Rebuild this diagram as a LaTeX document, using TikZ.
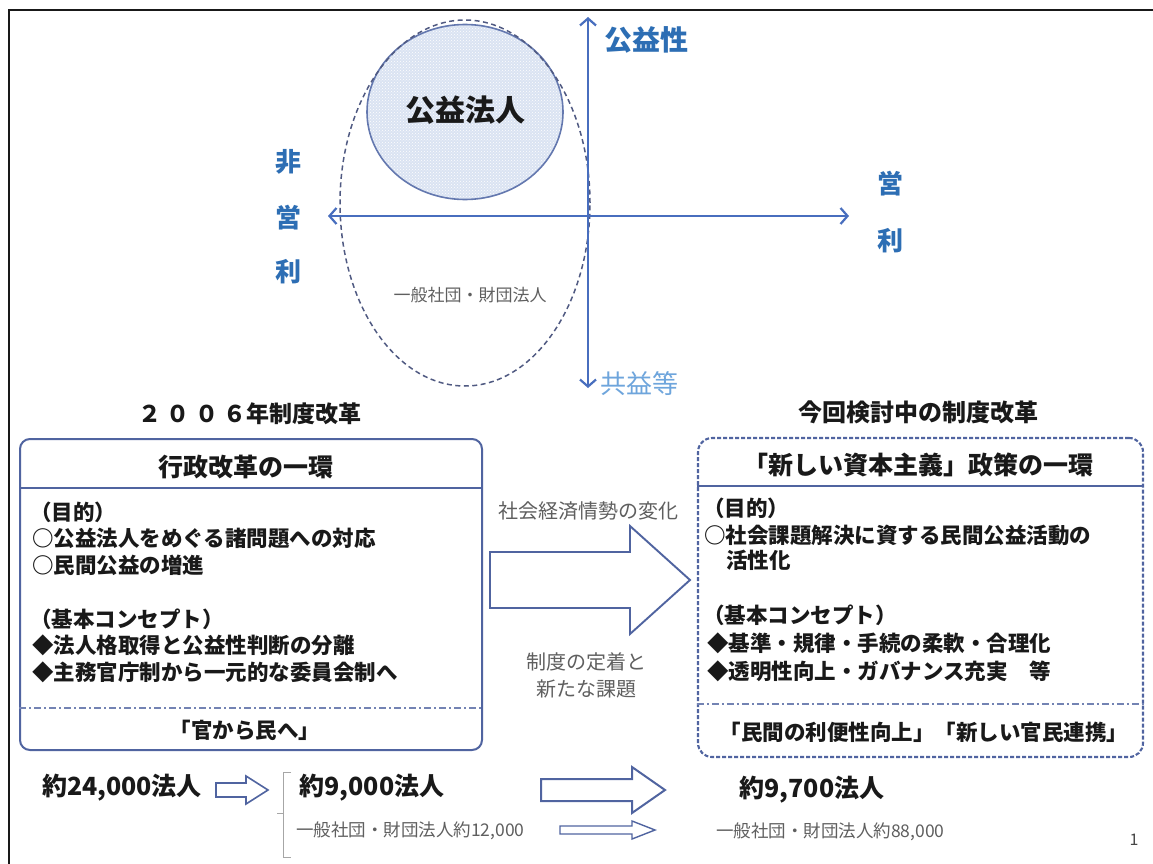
\documentclass[tikz,border=0pt]{standalone}
\usepackage{fontspec}
\setmainfont{Noto Sans CJK JP}
\usetikzlibrary{patterns,shapes.geometric,arrows.meta}
\definecolor{axisblue}{RGB}{72,110,190}
\definecolor{lblblue}{RGB}{45,110,180}
\definecolor{lightblue}{RGB}{110,165,220}
\definecolor{boxline}{RGB}{80,100,160}
\definecolor{circfill}{RGB}{218,227,242}
\definecolor{circline}{RGB}{100,120,175}
\definecolor{graytext}{RGB}{95,95,95}
\definecolor{ink}{RGB}{25,25,25}
\definecolor{dashgray}{RGB}{80,90,130}
\newcommand{\myfs}[1]{\fontsize{#1}{#1}\selectfont}
\begin{document}
\begin{tikzpicture}[x=1pt,y=-1pt,
  txt/.style={inner sep=0pt, text=ink},
  body/.style={txt, anchor=west, font=\myfs{21.5}\bfseries},
  head/.style={txt, font=\myfs{25}\bfseries},
  title/.style={txt, font=\myfs{24}\bfseries},
  note/.style={txt, text=graytext, font=\myfs{20}},
  small/.style={txt, text=graytext, font=\myfs{17.5}},
  count/.style={txt, font=\myfs{25}\bfseries},
  bluelbl/.style={txt, text=lblblue, font=\myfs{26}\bfseries},
  axis/.style={draw=axisblue, line width=2.2pt,
    {Straight Barb[length=7pt,width=16pt]}-{Straight Barb[length=7pt,width=16pt]}},
  blockarrow/.style={draw=boxline, line width=1.9pt, fill=white, line join=miter},
  divider/.style={draw=boxline, line width=1.6pt},
  dashdot/.style={draw=boxline!80, line width=1.1pt, dash pattern=on 7pt off 3pt on 2pt off 3pt},
  border/.style={draw=ink, line width=2.8pt}
]
\useasboundingbox (0,0) rectangle (1153,864);
\fill[white] (0,0) rectangle (1153,864);

% frame
\coordinate (bTR) at (1153,10);
\coordinate (bTL) at (9,10);
\coordinate (bBL) at (9,864);
\draw[border] (bTR) -- (bTL) -- (bBL);

% circle and dashed ellipse
\node (koeki) [ellipse, draw=circline, line width=1.6pt, fill=circfill,
  minimum width=196pt, minimum height=175pt, inner sep=0pt] at (465,112) {};
\fill[pattern=crosshatch dots, pattern color=white] (465,112) ellipse [x radius=97pt, y radius=86pt];
\node[txt, font=\myfs{30}\bfseries] (koekiL) at (465,110) {公益法人};
\node (ippan) [ellipse, draw=dashgray, line width=1.5pt, dash pattern=on 5pt off 3.5pt,
  minimum width=250pt, minimum height=366pt, inner sep=0pt] at (465,203) {};
\node[txt, text=graytext, font=\myfs{17}] (ippanL) at (470,295) {一般社団・財団法人};

% axes
\coordinate (vTop) at (588,17);
\coordinate (vBot) at (588,388);
\coordinate (hL) at (328,216);
\coordinate (hR) at (849,216);
\draw[axis] (vBot) -- (vTop);
\draw[axis] (hL) -- (hR);
\node[txt, anchor=west, text=lblblue, font=\myfs{28}\bfseries] (pub) at (604,40) {公益性};
\node[txt, anchor=west, text=lightblue, font=\myfs{26}] (mut) at (600,384) {共益等};
\node[bluelbl] (n1) at (288,162) {非};
\node[bluelbl] (n2) at (288,218) {営};
\node[bluelbl] (n3) at (288,272) {利};
\node[bluelbl] (p1) at (890,184) {営};
\node[bluelbl] (p2) at (890,241) {利};

% titles
\node[title, font=\myfs{23}\bfseries] (t1) at (250,414) {２ ０ ０ ６年制度改革};
\node[title] (t2) at (918,412) {今回検討中の制度改革};

% left box
\node (lbox) [draw=boxline, line width=2pt, rounded corners=10pt,
  minimum width=462pt, minimum height=311pt, inner sep=0pt] at (251,594.5) {};
\draw[divider] (lbox.west |- 0,488) -- (lbox.east |- 0,488);
\draw[dashdot] (lbox.west |- 0,708) -- (lbox.east |- 0,708);
\node[head] (lh) at (246,467) {行政改革の一環};
\node[body] (l1) at (30,512) {（目的）};
\node[body] (l2) at (32,538) {○公益法人をめぐる諸問題への対応};
\node[body] (l3) at (32,565) {○民間公益の増進};
\node[body] (l4) at (30,619) {（基本コンセプト）};
\node[body] (l5) at (32,645) {◆法人格取得と公益性判断の分離};
\node[body] (l6) at (32,672) {◆主務官庁制から一元的な委員会制へ};
\node[head, font=\myfs{21.5}\bfseries] (lf) at (245,730) {「官から民へ」};

% right box
\node (rbox) [draw=boxline, line width=2.1pt, rounded corners=14pt, dash pattern=on 4pt off 2pt,
  minimum width=445pt, minimum height=319pt, inner sep=0pt] at (920.5,597.5) {};
\draw[divider] (rbox.west |- 0,486) -- (rbox.east |- 0,486);
\draw[dashdot] (rbox.west |- 0,704) -- (rbox.east |- 0,704);
\node[head] (rh) at (918,465) {「新しい資本主義」政策の一環};
\node[body] (r1) at (703,508) {（目的）};
\node[body] (r2) at (704,535) {○社会課題解決に資する民間公益活動の};
\node[body] (r3) at (726,560) {活性化};
\node[body] (r4) at (703,615) {（基本コンセプト）};
\node[body] (r5) at (707,643) {◆基準・規律・手続の柔軟・合理化};
\node[body] (r6) at (707,671) {◆透明性向上・ガバナンス充実　等};
\node[head, font=\myfs{21.5}\bfseries] (rf) at (924,732) {「民間の利便性向上」「新しい官民連携」};

% middle arrow and notes
\node[note] (m1) at (588,511) {社会経済情勢の変化};
\draw[blockarrow] (490,552) -- (630,552) -- (630,526) -- (690,580) -- (630,634) -- (630,608) -- (490,608) -- cycle;
\node[note] (m2) at (586,662) {制度の定着と};
\node[note] (m3) at (586,689) {新たな課題};

% bottom row
\node[count] (c1) at (122,788) {約24,000法人};
\draw[blockarrow, line width=1.6pt] (216,783) -- (246,783) -- (246,776) -- (268,790) -- (246,804) -- (246,797) -- (216,797) -- cycle;
\draw[draw=gray!70, line width=1pt] (291,772) -- (283,772) -- (283,857) -- (291,857);
\draw[draw=gray!70, line width=1pt] (283,813) -- (277,813);
\node[count] (c2) at (372,788) {約9,000法人};
\node[small, anchor=west] (s1) at (296,831) {一般社団・財団法人約12,000};
\draw[blockarrow, line width=2pt] (541,779) -- (632,779) -- (632,767) -- (665,790) -- (632,813) -- (632,801) -- (541,801) -- cycle;
\draw[blockarrow, line width=1.4pt] (560,826) -- (632,826) -- (632,821) -- (655,830) -- (632,839) -- (632,834) -- (560,834) -- cycle;
\node[count] (c3) at (812,790) {約9,700法人};
\node[small, anchor=west] (s2) at (716,832) {一般社団・財団法人約88,000};
\node[txt, text=ink!80, font=\myfs{16}] (pg) at (1134,840) {1};
\end{tikzpicture}
\end{document}
